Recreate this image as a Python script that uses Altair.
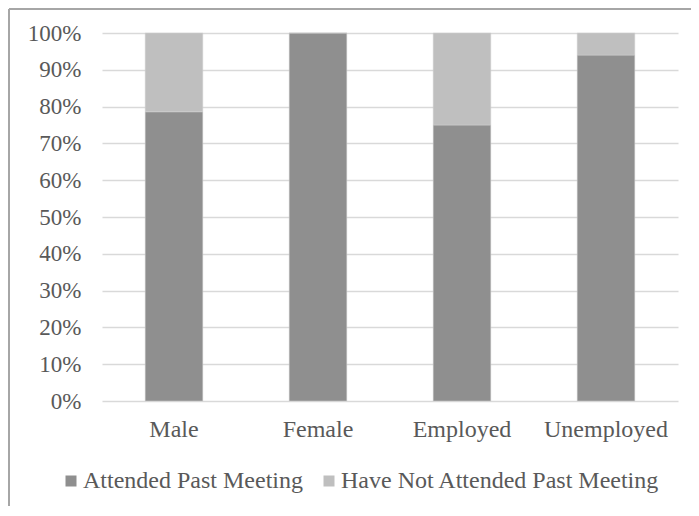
import altair as alt
import pandas as pd

categories = ["Male", "Female", "Employed", "Unemployed"]
attended = [0.786, 1.0, 0.75, 0.94]
not_attended = [0.214, 0.0, 0.25, 0.06]
series = ["Attended Past Meeting", "Have Not Attended Past Meeting"]
colors = ["#8f8f8f", "#bfbfbf"]

rows = []
for c, a, n in zip(categories, attended, not_attended):
    rows.append({"cat": c, "series": series[0], "value": a, "ord": 0})
    rows.append({"cat": c, "series": series[1], "value": n, "ord": 1})
df = pd.DataFrame(rows)

FONT = "Liberation Serif"
TXT = "#595959"

bars = alt.Chart(df).mark_bar(stroke="#d0d0d0", strokeWidth=0.5).encode(
    x=alt.X("cat:N", sort=categories, title=None,
            scale=alt.Scale(paddingInner=0.6, paddingOuter=0.3),
            axis=alt.Axis(labelAngle=0, labelFont=FONT, labelFontSize=24,
                          labelColor=TXT, tickSize=0, domain=False, labelPadding=16)),
    y=alt.Y("value:Q", stack="zero", title=None,
            scale=alt.Scale(domain=[0, 1]),
            axis=alt.Axis(format="%", values=[i / 10 for i in range(11)],
                          labelFont=FONT, labelFontSize=23, labelColor=TXT,
                          tickSize=0, domain=False, labelPadding=21,
                          gridColor="#d9d9d9", gridWidth=1.5)),
    color=alt.Color("series:N", sort=series,
                    scale=alt.Scale(domain=series, range=colors),
                    legend=alt.Legend(title=None, orient="none", direction="horizontal",
                                      legendX=-43, legendY=436,
                                      symbolType="square", symbolSize=121,
                                      symbolStrokeWidth=0, labelLimit=0,
                                      labelFont=FONT, labelFontSize=24, labelColor=TXT,
                                      columnPadding=14, symbolOffset=0, labelOffset=0)),
    order=alt.Order("ord:Q"),
)

frame_left = alt.Chart(df).mark_rule(color="#a6a6a6", strokeWidth=1.5).encode(
    x=alt.value(-93), y=alt.value(-24), y2=alt.value(495))
frame_top = alt.Chart(df).mark_rule(color="#a6a6a6", strokeWidth=1.5).encode(
    x=alt.value(-93), x2=alt.value(600), y=alt.value(-24))

chart = alt.layer(bars, frame_left, frame_top).properties(
    width=576, height=368,
    autosize=alt.AutoSizeParams(type="none"),
    padding={"left": 94, "top": 25, "right": 13, "bottom": 105},
).configure_view(stroke=None)

chart.save("out.html", embed_options={"renderer": "svg", "actions": False})
